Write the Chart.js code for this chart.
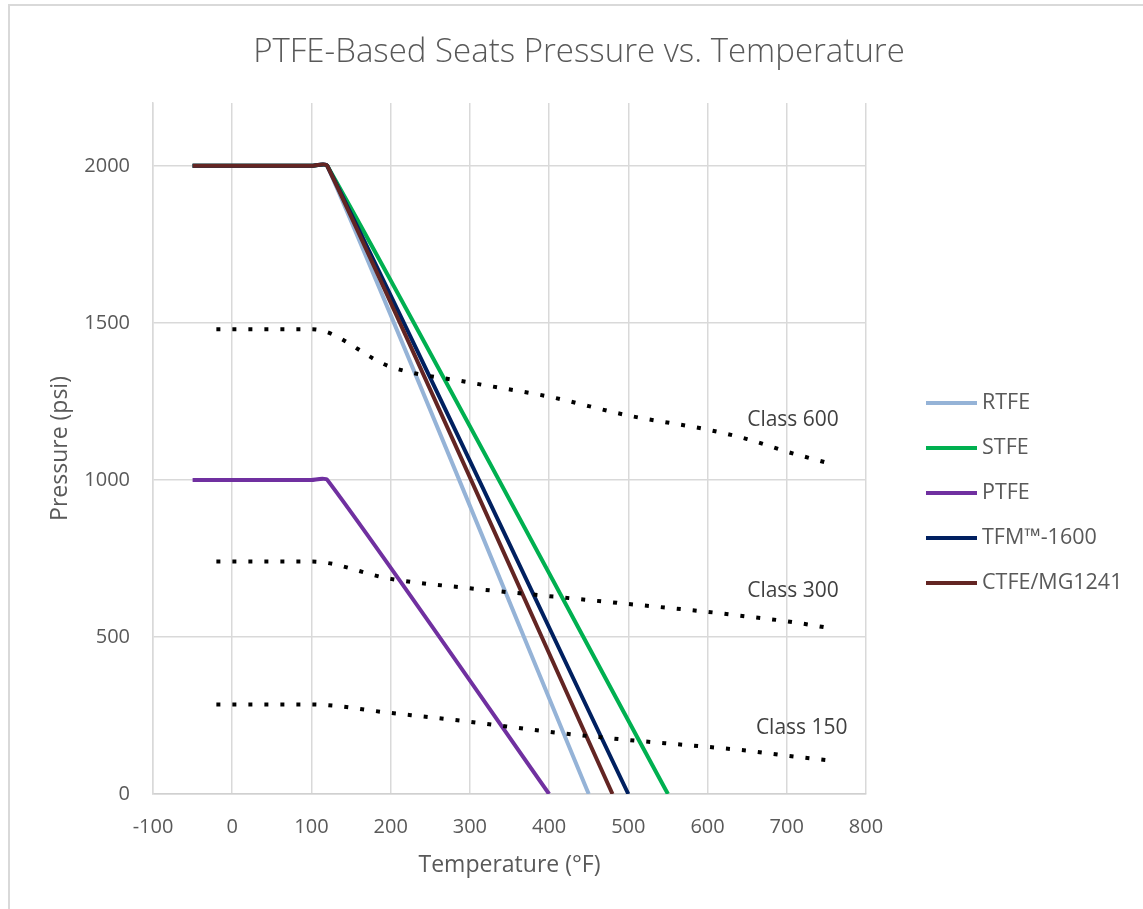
<!DOCTYPE html>
<html>
<head>
<meta charset="utf-8">
<script src="https://cdn.jsdelivr.net/npm/chart.js@4.4.1/dist/chart.umd.min.js"></script>
<style>
    html, body { margin: 0; padding: 0; background: #ffffff; }
    #wrap { position: relative; width: 1143px; height: 909px; }
</style>
</head>
<body>
<div id="wrap"><canvas id="seat-chart" width="1143" height="909"></canvas></div>
<script>
// seat ratings (temperature in °F, pressure in psi)
const rtfeTemp = [-50, 100, 120, 450];
const rtfePsi = [2000, 2000, 2000, 0];
const stfeTemp = [-50, 100, 120, 550];
const stfePsi = [2000, 2000, 2000, 0];
const ptfeTemp = [-50, 100, 120, 400];
const ptfePsi = [1000, 1000, 1000, 0];
const tfmTemp = [-50, 100, 120, 500];
const tfmPsi = [2000, 2000, 2000, 0];
const ctfeTemp = [-50, 100, 120, 480];
const ctfePsi = [2000, 2000, 2000, 0];

// ASME class curves
const classTemp = [-20, 100, 200, 300, 400, 500, 600, 650, 700, 750];
const class600 = [1480, 1480, 1360, 1310, 1265, 1205, 1160, 1130, 1090, 1055];
const class300 = [740, 740, 685, 655, 630, 605, 580, 565, 550, 530];
const class150 = [285, 285, 258, 230, 198, 172, 150, 138, 122, 108];

const xTicks = [-100, 0, 100, 200, 300, 400, 500, 600, 700, 800];
const yTicks = [0, 500, 1000, 1500, 2000];

const classNames = ['Class 600', 'Class 300', 'Class 150'];
const classNoteTemp = [650, 650, 661];
const classNotePsi = [1191, 646, 210];

const FONT = '"Open Sans", "Liberation Sans", sans-serif';
const GREY = '#595959';

function pts(xs, ys) {
    return xs.map((x, i) => ({ x: x, y: ys[i] }));
}

function seat(label, xs, ys, color, order) {
    return {
        label: label,
        data: pts(xs, ys),
        borderColor: color,
        backgroundColor: color,
        borderWidth: 4,
        tension: 0.22,
        pointRadius: 0,
        showLine: true,
        order: order
    };
}

function classLine(label, ys) {
    return {
        label: label,
        data: pts(classTemp, ys),
        borderColor: '#000000',
        borderWidth: 4,
        borderDash: [4, 12],
        borderCapStyle: 'butt',
        cubicInterpolationMode: 'monotone',
        pointRadius: 0,
        showLine: true,
        order: 0,
        isClass: true
    };
}

const framePlugin = {
    id: 'frame',
    beforeDraw(chart) {
        const ctx = chart.ctx;
        ctx.save();
        ctx.fillStyle = '#ffffff';
        ctx.fillRect(0, 0, chart.width, chart.height);
        ctx.strokeStyle = '#D9D9D9';
        ctx.lineWidth = 2;
        ctx.beginPath();
        ctx.moveTo(9, chart.height);
        ctx.lineTo(9, 5);
        ctx.lineTo(chart.width, 5);
        ctx.stroke();
        ctx.restore();
    }
};

const notesPlugin = {
    id: 'notes',
    afterDraw(chart) {
        const ctx = chart.ctx;
        const xs = chart.scales.x;
        const ys = chart.scales.y;
        ctx.save();

        // title
        ctx.fillStyle = GREY;
        ctx.font = '300 33px ' + FONT;
        ctx.textAlign = 'center';
        ctx.textBaseline = 'middle';
        ctx.fillText('PTFE-Based Seats Pressure vs. Temperature', 579, 53);

        // class notes
        ctx.fillStyle = '#404040';
        ctx.font = '21px ' + FONT;
        ctx.textAlign = 'left';
        classNames.forEach((name, i) => {
            ctx.fillText(name, xs.getPixelForValue(classNoteTemp[i]), ys.getPixelForValue(classNotePsi[i]));
        });

        // legend
        ctx.font = '21.5px ' + FONT;
        let row = 0;
        chart.data.datasets.forEach(ds => {
            if (ds.isClass) return;
            const cy = 403 + row * 45;
            ctx.strokeStyle = ds.borderColor;
            ctx.lineWidth = 4;
            ctx.beginPath();
            ctx.moveTo(926, cy);
            ctx.lineTo(977, cy);
            ctx.stroke();
            ctx.fillStyle = GREY;
            ctx.fillText(ds.label, 982, cy);
            row++;
        });
        ctx.restore();
    }
};

document.addEventListener('DOMContentLoaded', function() {
    const canvas = document.getElementById('seat-chart');

    new Chart(canvas.getContext('2d'), {
        type: 'scatter',
        data: {
            datasets: [
                seat('RTFE', rtfeTemp, rtfePsi, '#95B3D7', 5),
                seat('STFE', stfeTemp, stfePsi, '#00B050', 4),
                seat('PTFE', ptfeTemp, ptfePsi, '#7030A0', 3),
                seat('TFM™-1600', tfmTemp, tfmPsi, '#002060', 2),
                seat('CTFE/MG1241', ctfeTemp, ctfePsi, '#632523', 1),
                classLine('Class 600', class600),
                classLine('Class 300', class300),
                classLine('Class 150', class150)
            ]
        },
        options: {
            responsive: false,
            animation: false,
            layout: { padding: { top: 103, left: 0, right: 277, bottom: 0 } },
            plugins: {
                legend: { display: false },
                tooltip: { enabled: false },
                title: { display: false }
            },
            scales: {
                x: {
                    type: 'linear',
                    min: -100,
                    max: 800,
                    afterBuildTicks: scale => { scale.ticks = xTicks.map(v => ({ value: v })); },
                    afterFit: scale => { scale.height = 115; },
                    grid: { color: '#D9D9D9', lineWidth: 1.5, drawTicks: false },
                    border: { color: '#D0D0D0', width: 1.5 },
                    ticks: {
                        color: GREY,
                        font: { family: FONT, size: 20 },
                        padding: 21,
                        maxRotation: 0,
                        callback: v => String(v)
                    },
                    title: {
                        display: true,
                        text: 'Temperature (°F)',
                        color: GREY,
                        font: { family: FONT, size: 23 },
                        padding: { top: 0, bottom: 30 }
                    }
                },
                y: {
                    type: 'linear',
                    min: 0,
                    max: 2200,
                    afterBuildTicks: scale => { scale.ticks = yTicks.map(v => ({ value: v })); },
                    afterFit: scale => { scale.width = 153; },
                    grid: { color: '#D9D9D9', lineWidth: 1.5, drawTicks: false },
                    border: { color: '#D9D9D9', width: 1.5 },
                    ticks: {
                        color: GREY,
                        font: { family: FONT, size: 20 },
                        padding: 23,
                        callback: v => String(v)
                    },
                    title: {
                        display: true,
                        text: 'Pressure (psi)',
                        color: GREY,
                        font: { family: FONT, size: 23 },
                        padding: { top: 47, bottom: 0 }
                    }
                }
            }
        },
        plugins: [framePlugin, notesPlugin]
    });
});
</script>
</body>
</html>
